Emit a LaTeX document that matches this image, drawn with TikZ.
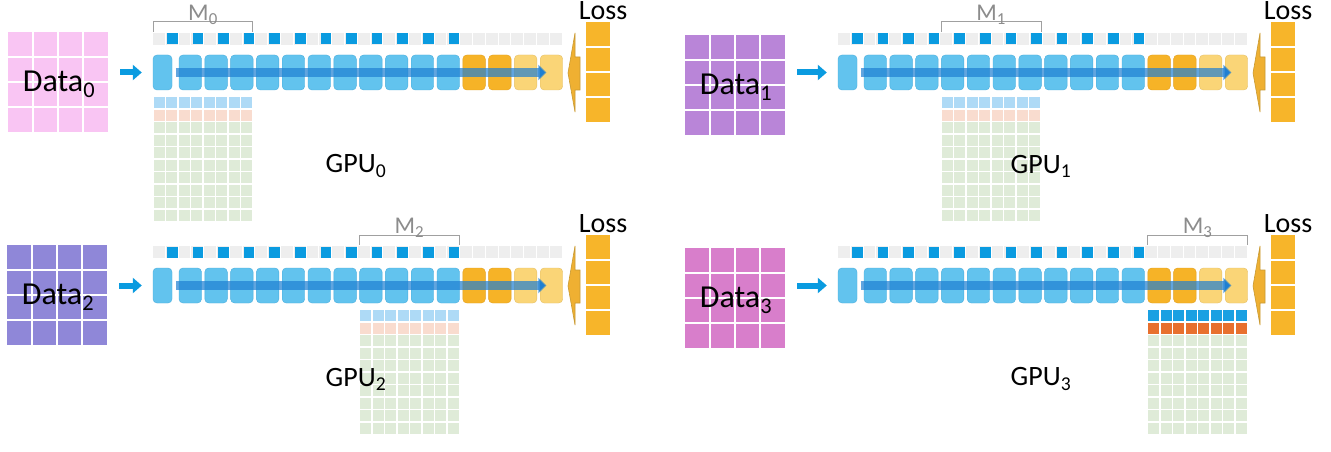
\documentclass[tikz,border=0pt]{standalone}
\usepackage{fontspec}
\setmainfont{Carlito}
\usetikzlibrary{arrows.meta}
\definecolor{LayerBlue}{HTML}{62C3EE}
\definecolor{LayerBlueEdge}{HTML}{4AAEDD}
\definecolor{TokBlue}{HTML}{0A9BE0}
\definecolor{BandGray}{HTML}{EEEEEE}
\definecolor{FlowBlue}{HTML}{1F7FD2}
\definecolor{LayerOrange}{HTML}{F6B327}
\definecolor{LayerOrangeEdge}{HTML}{E2A020}
\definecolor{LayerPale}{HTML}{FAD577}
\definecolor{LayerPaleEdge}{HTML}{E6C068}
\definecolor{LossOrange}{HTML}{F7B52A}
\definecolor{WedgeOrange}{HTML}{EFB032}
\definecolor{WedgeEdge}{HTML}{C99A33}
\definecolor{BraceGray}{HTML}{A0A0A0}
\definecolor{MGray}{HTML}{8C8C8C}
\definecolor{ActBlue}{HTML}{AEDAF6}
\definecolor{ActSalmon}{HTML}{F9DCCF}
\definecolor{ActGreen}{HTML}{DFEBD8}
\definecolor{ActBlueHot}{HTML}{1AA0E2}
\definecolor{ActOrangeHot}{HTML}{E8702E}
\definecolor{DataPink}{HTML}{F9C5F3}
\definecolor{DataLilac}{HTML}{B985D8}
\definecolor{DataViolet}{HTML}{8F87D8}
\definecolor{DataOrchid}{HTML}{D87ECB}

\tikzset{
 layer/.style={rounded corners=4pt,draw=LayerBlueEdge,fill=LayerBlue,minimum height=35pt,minimum width=22.5pt,inner sep=0pt},
 layerorange/.style={layer,draw=LayerOrangeEdge,fill=LayerOrange},
 layerpale/.style={layer,draw=LayerPaleEdge,fill=LayerPale},
 datagrid/.style={minimum size=100pt,inner sep=0pt},
 lossbox/.style={fill=LossOrange,minimum width=24pt,minimum height=100pt,inner sep=0pt},
 lbl/.style={font=\fontsize{28}{32}\selectfont,inner sep=0pt},
 datalbl/.style={font=\fontsize{32}{36}\selectfont,inner sep=0pt},
 mlbl/.style={font=\fontsize{24}{28}\selectfont,text=MGray,inner sep=0pt},
 feed/.style={TokBlue,line width=6pt,-{Triangle[length=9pt,width=15pt]}},
 flow/.style={FlowBlue,draw opacity=.7,line width=9pt,-{Triangle[length=8pt,width=15pt]}}
}

% #1,#2 panel origin, #3 data colour, #4 index, #5 data corner, #6,#7 first activation rows
\newcommand\gpupanel[7]{%
\begin{scope}[shift={(#1,#2)}]
 % input batch
 \begin{scope}[shift={(#5)}]
  \node[datagrid,fill=#3] (data#4) at (50,50) {};
  \foreach \k in {25,50,75} {
   \draw[white,line width=2pt] (\k,0) -- (\k,100);
   \draw[white,line width=2pt] (0,\k) -- (100,\k);
  }
  \node[datalbl] at (51,52) {Data\textsubscript{#4}};
 \end{scope}
 % token band
 \foreach \k in {0,...,31} \fill[BandGray] (12.8*\k,-22) rectangle ++(11.8,12);
 \foreach \k in {0,...,11} \fill[TokBlue] (14,-21.5) ++(25.6*\k,0) rectangle ++(10.5,11);
 % layers
 \node[layer,minimum width=19pt] (L#4-0) at (9.5,17.5) {};
 \foreach \k in {1,...,11} \node[layer] (L#4-\k) at (11.45+25.8*\k,17.5) {};
 \foreach \k in {12,13} \node[layerorange] (L#4-\k) at (11.45+25.8*\k,17.5) {};
 \foreach \k in {14,15} \node[layerpale] (L#4-\k) at (11.45+25.8*\k,17.5) {};
 \draw[feed,shorten <=12pt,shorten >=11pt] (data#4.east |- L#4-0.west) -- (L#4-0.west);
 \draw[flow] ([xshift=-3pt]L#4-1.west) -- ([xshift=-5pt]L#4-15.center);
 % loss
 \node[lossbox] (loss#4) at (445,17) {};
 \foreach \k in {-8,17,42} \draw[white,line width=1.5pt] (433,\k) -- (457,\k);
 \node[lbl] at (450,-44) {Loss};
 \fill[WedgeOrange,draw=WedgeEdge,line width=.6pt] (422,-22) -- (422,2) -- (427,2) -- (427,35) -- (422,35) -- (422,57) -- (415,18) -- cycle;
 % stage bracket and its activations
 \draw[BraceGray,line width=1pt] (103.2*#4,-23) -- ++(0,-10) -- ++(99.9,0) -- ++(0,10);
 \node[mlbl] at (103.2*#4+50,-40) {M\textsubscript{#4}};
 \foreach \c in {0,...,7} {
  \fill[#6] (103.2*#4+0.7+12.5*\c,42) rectangle ++(11,11);
  \fill[#7] (103.2*#4+0.7+12.5*\c,54.5) rectangle ++(11,11);
  \foreach \r in {2,...,9} \fill[ActGreen] (103.2*#4+0.7+12.5*\c,42+12.5*\r) rectangle ++(11,11);
 }
 \node[lbl] (gpu#4) at (203,111) {GPU\textsubscript{#4}};
\end{scope}}

\begin{document}
\begin{tikzpicture}[x=1pt,y=-1pt]
\useasboundingbox (0,0) rectangle (1331,452);
\fill[white] (0,0) rectangle (1331,452);
\gpupanel{153}{55}{DataPink}{0}{-145,-23}{ActBlue}{ActSalmon}
\gpupanel{838}{55}{DataLilac}{1}{-153,-20}{ActBlue}{ActSalmon}
\gpupanel{153}{268}{DataViolet}{2}{-146,-23}{ActBlue}{ActSalmon}
\gpupanel{838}{268}{DataOrchid}{3}{-153,-20}{ActBlueHot}{ActOrangeHot}
\end{tikzpicture}
\end{document}
